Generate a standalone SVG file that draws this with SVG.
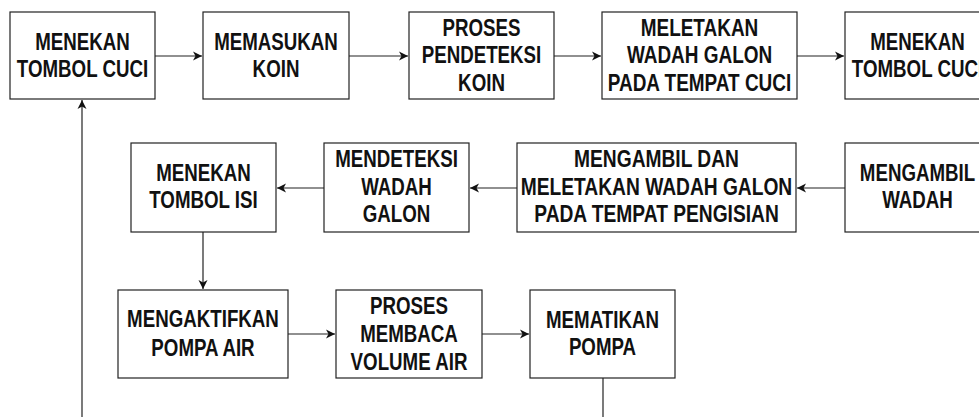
<svg xmlns="http://www.w3.org/2000/svg" width="979" height="417" viewBox="0 0 979 417">
<defs>
<style>
.box{fill:#fff;stroke:#222;stroke-width:1.2}
.lbl{font-family:"Liberation Sans",Arial,sans-serif;font-weight:bold;font-size:24px;fill:#111;text-anchor:middle}
.edge{fill:none;stroke:#222;stroke-width:1.2}
</style>
<marker id="arr" markerUnits="userSpaceOnUse" markerWidth="10" markerHeight="10" refX="9" refY="4.5" orient="auto" viewBox="0 0 10 9">
<path d="M0,0 L9,4.5 L0,9 L2.5,4.5 z" fill="#111"/>
</marker>
</defs>
<rect width="979" height="417" fill="#fff"/>
<g id="connectors">
<path class="edge" d="M155,56 H202" marker-end="url(#arr)"/>
<path class="edge" d="M349,56 H408" marker-end="url(#arr)"/>
<path class="edge" d="M554,56 H601" marker-end="url(#arr)"/>
<path class="edge" d="M797,56 H844" marker-end="url(#arr)"/>
<path class="edge" d="M845,188 H797" marker-end="url(#arr)"/>
<path class="edge" d="M517,188 H470" marker-end="url(#arr)"/>
<path class="edge" d="M324,188 H277" marker-end="url(#arr)"/>
<path class="edge" d="M203,232 V289" marker-end="url(#arr)"/>
<path class="edge" d="M288,334 H335" marker-end="url(#arr)"/>
<path class="edge" d="M482,334 H529" marker-end="url(#arr)"/>
<path class="edge" d="M603,378 V417"/>
<path class="edge" d="M82,417 V100" marker-end="url(#arr)"/>
</g>
<g id="n1"><rect class="box" x="10" y="12" width="145" height="87"/>
<g transform="translate(82.5,0) scale(0.78,1)"><text class="lbl" x="0" y="50">MENEKAN</text><text class="lbl" x="0" y="77.3">TOMBOL CUCI</text></g></g>
<g id="n2"><rect class="box" x="203" y="12" width="146" height="87"/>
<g transform="translate(276,0) scale(0.78,1)"><text class="lbl" x="0" y="50">MEMASUKAN</text><text class="lbl" x="0" y="77.3">KOIN</text></g></g>
<g id="n3"><rect class="box" x="409" y="12" width="145" height="87"/>
<g transform="translate(481.5,0) scale(0.78,1)"><text class="lbl" x="0" y="35.8">PROSES</text><text class="lbl" x="0" y="63.3">PENDETEKSI</text><text class="lbl" x="0" y="90.8">KOIN</text></g></g>
<g id="n4"><rect class="box" x="602" y="12" width="195" height="87"/>
<g transform="translate(699.5,0) scale(0.79,1)"><text class="lbl" x="0" y="35.8">MELETAKAN</text><text class="lbl" x="0" y="63.3">WADAH GALON</text><text class="lbl" x="0" y="90.8">PADA TEMPAT CUCI</text></g></g>
<g id="n5"><rect class="box" x="845" y="12" width="145" height="87"/>
<g transform="translate(917.5,0) scale(0.78,1)"><text class="lbl" x="0" y="50">MENEKAN</text><text class="lbl" x="0" y="77.3">TOMBOL CUCI</text></g></g>
<g id="n6"><rect class="box" x="845" y="143" width="145" height="89"/>
<g transform="translate(917.5,0) scale(0.78,1)"><text class="lbl" x="0" y="181">MENGAMBIL</text><text class="lbl" x="0" y="208.5">WADAH</text></g></g>
<g id="n7"><rect class="box" x="517" y="143" width="279" height="89"/>
<g transform="translate(656.5,0) scale(0.8,1)"><text class="lbl" x="0" y="167.3">MENGAMBIL DAN</text><text class="lbl" x="0" y="194.8">MELETAKAN WADAH GALON</text><text class="lbl" x="0" y="222.3">PADA TEMPAT PENGISIAN</text></g></g>
<g id="n8"><rect class="box" x="324" y="143" width="145" height="89"/>
<g transform="translate(396.5,0) scale(0.78,1)"><text class="lbl" x="0" y="167.3">MENDETEKSI</text><text class="lbl" x="0" y="194.8">WADAH</text><text class="lbl" x="0" y="222.3">GALON</text></g></g>
<g id="n9"><rect class="box" x="131" y="143" width="145" height="89"/>
<g transform="translate(203.5,0) scale(0.78,1)"><text class="lbl" x="0" y="181">MENEKAN</text><text class="lbl" x="0" y="208.5">TOMBOL ISI</text></g></g>
<g id="n10"><rect class="box" x="118" y="290" width="170" height="88"/>
<g transform="translate(203,0) scale(0.78,1)"><text class="lbl" x="0" y="327.5">MENGAKTIFKAN</text><text class="lbl" x="0" y="356">POMPA AIR</text></g></g>
<g id="n11"><rect class="box" x="336" y="290" width="146" height="88"/>
<g transform="translate(409,0) scale(0.78,1)"><text class="lbl" x="0" y="314">PROSES</text><text class="lbl" x="0" y="342">MEMBACA</text><text class="lbl" x="0" y="370">VOLUME AIR</text></g></g>
<g id="n12"><rect class="box" x="530" y="290" width="145" height="88"/>
<g transform="translate(602.5,0) scale(0.78,1)"><text class="lbl" x="0" y="328">MEMATIKAN</text><text class="lbl" x="0" y="355.5">POMPA</text></g></g>
</svg>
